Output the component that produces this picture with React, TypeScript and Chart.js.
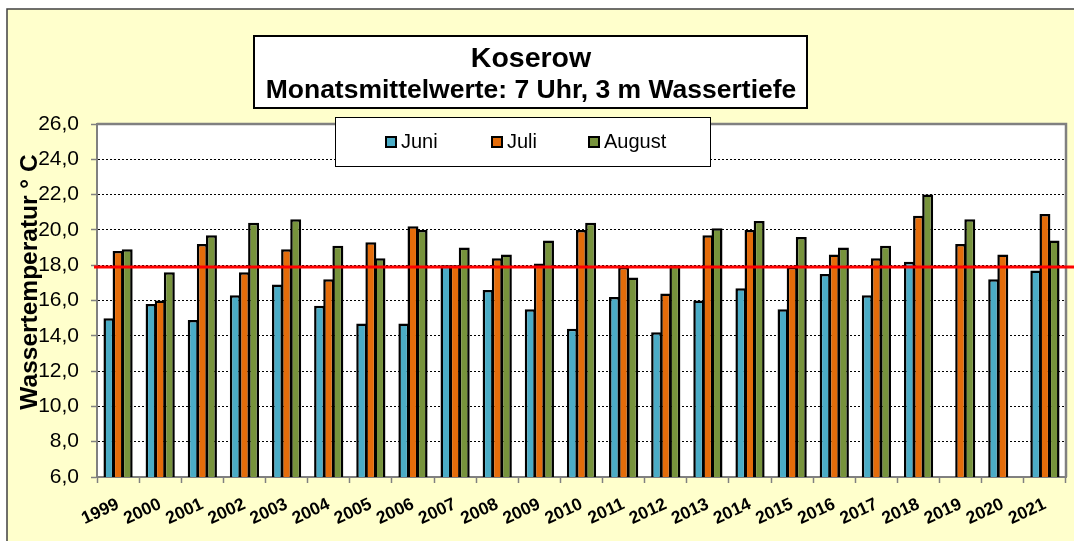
import React, { useEffect, useRef } from "react";
import { Chart, registerables } from "chart.js";

Chart.register(...registerables);

const YEARS = ["1999","2000","2001","2002","2003","2004","2005","2006","2007","2008","2009","2010","2011","2012","2013","2014","2015","2016","2017","2018","2019","2020","2021"];
const JUNI = [15.0,15.8,14.9,16.3,16.9,15.7,14.7,14.7,18.0,16.6,15.5,14.4,16.2,14.2,16.0,16.7,15.5,17.5,16.3,18.2,null,17.2,17.7];
const JULI = [18.8,16.0,19.2,17.6,18.9,17.2,19.3,20.2,18.0,18.4,18.1,20.0,17.9,16.4,19.7,20.0,17.9,18.6,18.4,20.8,19.2,18.6,20.9];
const AUGUST = [18.9,17.6,19.7,20.4,20.6,19.1,18.4,20.0,19.0,18.6,19.4,20.4,17.3,18.0,20.1,20.5,19.6,19.0,19.1,22.0,20.6,null,19.4];
const MEAN = 17.9;
const Y_MIN = 6;
const Y_MAX = 26;
const Y_STEP = 2;

const TITLE = "Koserow";
const SUBTITLE = "Monatsmittelwerte: 7 Uhr, 3 m Wassertiefe";
const Y_TITLE = "Wassertemperatur ° C";
const SERIES_LABELS = ["Juni", "Juli", "August"];
const SERIES_COLORS = ["#4BACC6", "#E46C0A", "#77933C"];

const FONT = "'Liberation Sans', Arial, sans-serif";

const decor = {
  id: "decor",
  beforeDraw(chart: any) {
    const { ctx, width, height, chartArea } = chart;
    ctx.save();
    ctx.fillStyle = "#ffffff";
    ctx.fillRect(0, 0, width, height);
    ctx.fillStyle = "#FFFFCC";
    ctx.fillRect(7, 9, width - 7, height - 9);
    ctx.strokeStyle = "#404040";
    ctx.lineWidth = 1.5;
    ctx.beginPath();
    ctx.moveTo(7, height);
    ctx.lineTo(7, 9);
    ctx.lineTo(width, 9);
    ctx.stroke();
    ctx.fillStyle = "#ffffff";
    ctx.fillRect(chartArea.left, chartArea.top, chartArea.right - chartArea.left, chartArea.bottom - chartArea.top);
    ctx.restore();
  },
  afterDatasetsDraw(chart: any) {
    const { ctx, width, chartArea } = chart;
    ctx.save();
    ctx.strokeStyle = "#808080";
    ctx.lineWidth = 2.5;
    ctx.beginPath();
    ctx.moveTo(chartArea.left, chartArea.top);
    ctx.lineTo(chartArea.right, chartArea.top);
    ctx.lineTo(chartArea.right, chartArea.bottom);
    ctx.stroke();
    const y = chart.scales.y.getPixelForValue(MEAN);
    ctx.strokeStyle = "#FF0000";
    ctx.lineWidth = 3;
    ctx.beginPath();
    ctx.moveTo(chartArea.left - 3, y);
    ctx.lineTo(width, y);
    ctx.stroke();
    ctx.restore();
  },
  afterDraw(chart: any) {
    const { ctx } = chart;
    ctx.save();
    ctx.fillStyle = "#ffffff";
    ctx.fillRect(254, 36, 553, 72);
    ctx.strokeStyle = "#000000";
    ctx.lineWidth = 2;
    ctx.strokeRect(254, 36, 553, 72);
    ctx.fillStyle = "#000000";
    ctx.textAlign = "center";
    ctx.textBaseline = "alphabetic";
    ctx.font = `bold 28.5px ${FONT}`;
    ctx.fillText(TITLE, 531, 67);
    ctx.font = `bold 26.5px ${FONT}`;
    ctx.fillText(SUBTITLE, 531, 98);

    ctx.fillStyle = "#ffffff";
    ctx.fillRect(335, 117, 375, 49);
    ctx.strokeStyle = "#000000";
    ctx.lineWidth = 1;
    ctx.strokeRect(335.5, 117.5, 375, 49);
    const ds = chart.data.datasets;
    const xs = [385, 491, 588];
    ctx.font = `20px ${FONT}`;
    ctx.textAlign = "left";
    for (let i = 0; i < ds.length; i++) {
      const x = xs[i];
      ctx.fillStyle = ds[i].backgroundColor;
      ctx.fillRect(x, 136, 12, 12);
      ctx.strokeStyle = "#000";
      ctx.lineWidth = 2;
      ctx.strokeRect(x + 1, 137, 10, 10);
      ctx.fillStyle = "#000";
      ctx.fillText(ds[i].label, x + 16, 148);
    }

    ctx.translate(37, 282);
    ctx.rotate(-Math.PI / 2);
    ctx.font = `bold 24.5px ${FONT}`;
    ctx.textAlign = "center";
    ctx.textBaseline = "alphabetic";
    ctx.fillStyle = "#000";
    ctx.fillText(Y_TITLE, 0, 0);
    ctx.restore();
  },
};

export default function App() {
  const ref = useRef<HTMLCanvasElement | null>(null);
  useEffect(() => {
    if (!ref.current) return;
    const mk = (i: number, data: (number | null)[]) => ({
      label: SERIES_LABELS[i],
      data,
      backgroundColor: SERIES_COLORS[i],
      borderColor: "#000000",
      borderWidth: 2.5,
      borderSkipped: false,
      barPercentage: 1.2,
      categoryPercentage: 0.65,
    });
    const chart = new Chart(ref.current, {
      type: "bar",
      data: {
        labels: YEARS,
        datasets: [mk(0, JUNI), mk(1, JULI), mk(2, AUGUST)],
      },
      options: {
        responsive: false,
        animation: false,
        devicePixelRatio: 1,
        layout: { padding: { left: 0, top: 124, right: 8, bottom: 0 } },
        plugins: {
          legend: { display: false },
          title: { display: false },
          tooltip: { enabled: false },
        },
        scales: {
          x: {
            offset: true,
            grid: {
              offset: true,
              drawOnChartArea: false,
              drawTicks: true,
              tickLength: 6,
              tickColor: "#808080",
              tickWidth: 1.5,
            },
            border: { display: true, color: "#808080", width: 2 },
            ticks: {
              minRotation: 25,
              maxRotation: 25,
              autoSkip: false,
              padding: 11,
              color: "#000",
              font: { family: FONT, size: 17.5, weight: "bold" },
            },
            afterFit: (s: any) => {
              s.height = 64;
            },
          },
          y: {
            min: Y_MIN,
            max: Y_MAX,
            grid: {
              color: (c: any) =>
                c.tick && (c.tick.value === Y_MIN || c.tick.value === Y_MAX) ? "rgba(0,0,0,0)" : "#000000",
              lineWidth: 1,
              tickLength: 6,
              tickColor: "#808080",
              tickWidth: 1.5,
            },
            border: { display: true, color: "#808080", width: 2, dash: [2, 2] },
            ticks: {
              stepSize: Y_STEP,
              padding: 12,
              color: "#000",
              font: { family: FONT, size: 21 },
              callback: (v: any) => Number(v).toFixed(1).replace(".", ","),
            },
            afterFit: (s: any) => {
              s.width = 97;
            },
          },
        },
      },
      plugins: [decor],
    } as any);
    return () => chart.destroy();
  }, []);
  return (
    <div style={{ position: "absolute", left: 0, top: 0, width: 1074, height: 541 }}>
      <canvas ref={ref} width={1074} height={541} style={{ display: "block" }} />
    </div>
  );
}
